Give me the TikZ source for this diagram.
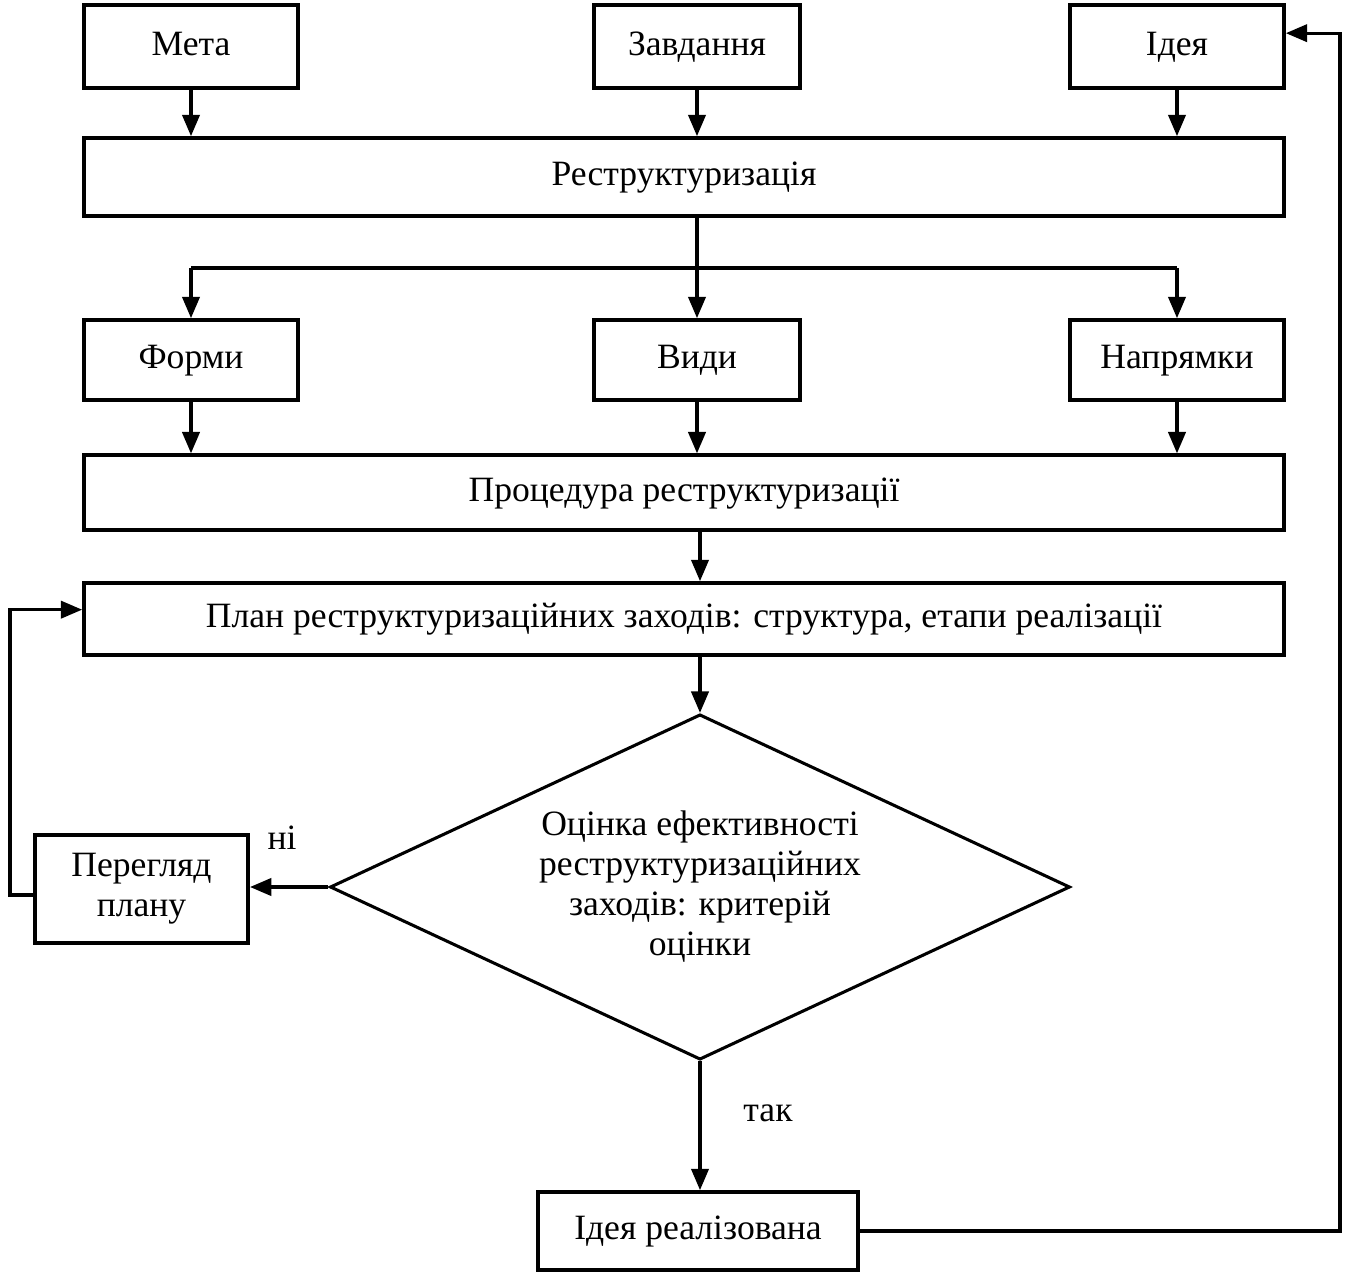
\documentclass[tikz,border=0pt]{standalone}
\usepackage{fontspec}
\setmainfont{Liberation Serif}
\usepackage{tikz}
\usetikzlibrary{shapes.geometric, arrows.meta}
\usetikzlibrary{calc}
\usetikzlibrary{positioning}

\begin{document}
\begin{tikzpicture}[x=0.75pt,y=0.75pt,yscale=-1,xscale=1]
  \useasboundingbox (0,0) rectangle (1347,1278); %set diagram to the size of the scan
  \tikzstyle{box} = [draw,line width=2.8pt,inner sep=0pt,align=center,font=\fontsize{26.7}{30}\selectfont]
  \tikzstyle{single} = [text height=18pt,text depth=5pt]
  \tikzstyle{arrow} = [line width=2.3pt,-{Triangle[length=16pt,width=13pt]}]
  \tikzstyle{line} = [line width=2.3pt]
  %Draw the top row
  \node[box,single,minimum width=160.5pt,minimum height=62pt] (meta) at (191,46.5) {Мета};
  \node[box,single,minimum width=154.5pt,minimum height=62pt] (zavd) at (697,46.5) {Завдання};
  \node[box,single,minimum width=160.5pt,minimum height=62pt] (ideya) at (1177,46.5) {Ідея};
  \node[box,single,minimum width=900pt,minimum height=58.5pt] (restr) at (684,177) {Реструктуризація};
  %Draw the second row
  \node[box,single,minimum width=160.5pt,minimum height=60pt] (formy) at (191,360) {Форми};
  \node[box,single,minimum width=154.5pt,minimum height=60pt] (vydy) at (697,360) {Види};
  \node[box,single,minimum width=160.5pt,minimum height=60pt] (napr) at (1177,360) {Напрямки};
  \node[box,single,minimum width=900pt,minimum height=56pt] (proc) at (684,492.5) {Процедура реструктуризації};
  \node[box,single,minimum width=900pt,minimum height=54pt] (plan) at (684,619) {План реструктуризаційних заходів: структура, етапи реалізації};
  %Draw the decision
  \node[box,line width=2.3pt,diamond,shape aspect=2.14,minimum width=555pt,minimum height=259pt] (ocin) at (700,887)
    {Оцінка ефективності\\реструктуризаційних\\заходів: критерій\\оцінки};
  \node[box,minimum width=160pt,minimum height=81pt] (pereg) at (141.5,889) {Перегляд\\плану};
  \node[box,single,minimum width=240pt,minimum height=58.5pt] (real) at (698,1231) {Ідея реалізована};
  % Label the branches
  \node[font=\fontsize{26.7}{30}\selectfont] (ni) at (282,838) {ні};
  \node[font=\fontsize{26.7}{30}\selectfont] (tak) at (768,1113) {так};
  %Draw the arrows
  \draw[arrow] (meta) -- (meta |- restr.north);
  \draw[arrow] (zavd) -- (zavd |- restr.north);
  \draw[arrow] (ideya) -- (ideya |- restr.north);
  \coordinate (split) at (697,268);
  \draw[line] (vydy |- restr.south) -- (split);
  \draw[line] (formy |- split) -- (napr |- split);
  \draw[arrow] (formy |- split) -- (formy.north);
  \draw[arrow] (split) -- (vydy.north);
  \draw[arrow] (napr |- split) -- (napr.north);
  \draw[arrow] (formy) -- (formy |- proc.north);
  \draw[arrow] (vydy) -- (vydy |- proc.north);
  \draw[arrow] (napr) -- (napr |- proc.north);
  \draw[arrow] (ocin |- proc.south) -- (ocin |- plan.north);
  \draw[arrow] (ocin |- plan.south) -- (ocin.north);
  \draw[arrow] (ocin.west) -- (ocin.west -| pereg.east);
  \draw[arrow] (ocin.south) -- (ocin.south |- real.north);
  %Draw the loops back
  \coordinate (pout) at ([yshift=4.5pt]pereg.west);
  \coordinate (pin) at ([yshift=-7pt]plan.west);
  \coordinate (iin) at ([yshift=-10pt]ideya.east);
  \coordinate (left) at (10,0);
  \coordinate (right) at (1340,0);
  \draw[arrow] (pout) -- (pout -| left) |- (pin);
  \draw[arrow] (real.east) -- (real.east -| right) |- (iin);
\end{tikzpicture}
\end{document}
